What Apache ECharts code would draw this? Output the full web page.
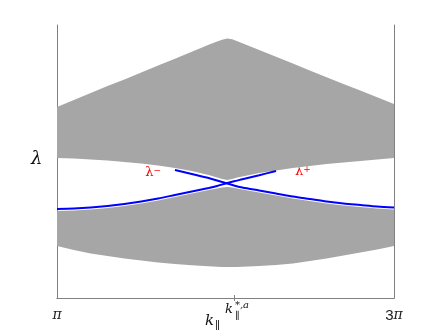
<!DOCTYPE html>
<html>
<head>
<meta charset="utf-8">
<script src="https://cdn.jsdelivr.net/npm/echarts@6/dist/echarts.min.js"></script>
<style>
  html, body { margin: 0; padding: 0; background: #fff; }
  #chart { width: 436px; height: 336px; }
</style>
</head>
<body>
<div id="chart"></div>
<script>
// k in units of pi
var kValues   = [1.0, 1.1, 1.2, 1.3, 1.4, 1.5, 1.6, 1.7, 1.8, 1.9, 1.95, 1.98, 2.01, 2.04, 2.07, 2.1, 2.2, 2.3, 2.4, 2.5, 2.6, 2.7, 2.8, 2.9, 3.0];
// edges of the grey bands (lambda, arbitrary units)
var upperTop  = [1.91, 1.98, 2.05, 2.12, 2.185, 2.255, 2.325, 2.393, 2.463, 2.533, 2.565, 2.583, 2.595, 2.588, 2.568, 2.548, 2.48, 2.412, 2.344, 2.276, 2.208, 2.14, 2.076, 2.008, 1.94];
var upperBot  = [1.40, 1.395, 1.385, 1.375, 1.36, 1.345, 1.325, 1.30, 1.27, 1.23, 1.205, 1.19, 1.18, 1.19, 1.205, 1.215, 1.25, 1.275, 1.30, 1.32, 1.34, 1.355, 1.37, 1.385, 1.40];
var lowerTop  = [0.87, 0.875, 0.885, 0.90, 0.92, 0.945, 0.975, 1.01, 1.045, 1.08, 1.095, 1.104, 1.11, 1.104, 1.094, 1.085, 1.055, 1.025, 0.995, 0.97, 0.945, 0.925, 0.91, 0.895, 0.885];
var lowerBot  = [0.52, 0.48, 0.445, 0.42, 0.395, 0.375, 0.355, 0.34, 0.327, 0.317, 0.313, 0.311, 0.31, 0.31, 0.311, 0.313, 0.32, 0.33, 0.345, 0.37, 0.395, 0.425, 0.455, 0.485, 0.52];
// blue branches
var kPlus     = [1.0, 1.1, 1.2, 1.3, 1.4, 1.5, 1.6, 1.7, 1.8, 1.9, 1.95, 2.0, 2.05, 2.1, 2.2, 2.3];
var lamPlus   = [0.89, 0.895, 0.905, 0.92, 0.94, 0.965, 0.995, 1.03, 1.065, 1.10, 1.12, 1.145, 1.167, 1.187, 1.228, 1.27];
var kMinus    = [1.7, 1.8, 1.9, 1.95, 2.0, 2.05, 2.1, 2.2, 2.3, 2.4, 2.5, 2.6, 2.7, 2.8, 2.9, 3.0];
var lamMinus  = [1.28, 1.24, 1.20, 1.175, 1.15, 1.125, 1.105, 1.075, 1.045, 1.015, 0.99, 0.965, 0.945, 0.93, 0.915, 0.905];
var kStar     = 2.05;

var bands = [[upperTop, upperBot], [lowerTop, lowerBot]];

function pairs(xs, ys) {
    return xs.map(function (x, i) { return [x, ys[i]]; });
}

var chart = echarts.init(document.getElementById('chart'));
var axisGrey = '#808080';

var option = {
    animation: false,
    grid: { left: 57, right: 42, top: 25, bottom: 38 },
    xAxis: [
        {
            type: 'value', min: 1, max: 3, position: 'bottom',
            axisLine: { lineStyle: { color: axisGrey, width: 1 } },
            axisTick: { show: true, inside: true, length: 3, customValues: [kStar], lineStyle: { color: axisGrey } },
            axisLabel: {
                customValues: [1, 3], margin: 10,
                formatter: function (v) { return v === 1 ? '{p|π}' : '{n|3}{p|π}'; },
                rich: {
                    p: { fontFamily: 'DejaVu Serif', fontStyle: 'italic', fontSize: 14, color: '#222' },
                    n: { fontFamily: 'Liberation Sans', fontSize: 15, color: '#222' }
                }
            },
            splitLine: { show: false }
        },
        {
            type: 'value', min: 1, max: 3, position: 'top',
            axisLine: { lineStyle: { color: axisGrey, width: 1 } },
            axisTick: { show: true, inside: true, length: 3, customValues: [kStar], lineStyle: { color: axisGrey } },
            axisLabel: { show: false },
            splitLine: { show: false }
        }
    ],
    yAxis: [
        {
            type: 'value', min: 0, max: 2.73, position: 'left',
            axisLine: { show: true, lineStyle: { color: axisGrey, width: 1 } },
            axisTick: { show: false }, axisLabel: { show: false }, splitLine: { show: false }
        },
        {
            type: 'value', min: 0, max: 2.73, position: 'right',
            axisLine: { show: true, lineStyle: { color: axisGrey, width: 1 } },
            axisTick: { show: false }, axisLabel: { show: false }, splitLine: { show: false }
        }
    ],
    series: [
        {
            // grey continuum bands
            type: 'custom',
            data: [[kValues[0], upperTop[0]], [kValues[0], lowerTop[0]]],
            renderItem: function (params, api) {
                var b = bands[params.dataIndex];
                var pts = [];
                for (var i = 0; i < kValues.length; i++) pts.push(api.coord([kValues[i], b[0][i]]));
                for (var j = kValues.length - 1; j >= 0; j--) pts.push(api.coord([kValues[j], b[1][j]]));
                return {
                    type: 'polygon',
                    shape: { points: pts, smooth: 0 },
                    style: { fill: '#a6a6a6', stroke: 'none' }
                };
            },
            z: 1
        },
        {
            type: 'line', name: 'lambda+', data: pairs(kPlus, lamPlus),
            showSymbol: false, smooth: 0.3,
            lineStyle: { color: '#0000ff', width: 2 }, z: 3
        },
        {
            type: 'line', name: 'lambda-', data: pairs(kMinus, lamMinus),
            showSymbol: false, smooth: 0.3,
            lineStyle: { color: '#0000ff', width: 2 }, z: 3
        }
    ]
};
chart.setOption(option);

// texts placed through the axes' own scales
var tickPx = chart.convertToPixel({ xAxisIndex: 0 }, kStar);
var labMinus = chart.convertToPixel({ xAxisIndex: 0, yAxisIndex: 0 }, [1.57, 1.25]);
var labPlus = chart.convertToPixel({ xAxisIndex: 0, yAxisIndex: 0 }, [2.46, 1.26]);
var serif = 'DejaVu Serif';
var redRich = {
    l: { fontFamily: serif, fontSize: 13, fill: '#ff0000' },
    s: { fontFamily: serif, fontSize: 9, fill: '#ff0000', verticalAlign: 'top' }
};

chart.setOption({
    graphic: [
        { type: 'text', x: 31, y: 150, style: { text: 'λ', font: 'italic 18px ' + serif, fill: '#111' } },
        { type: 'text', x: tickPx - 9, y: 303, style: { text: 'k', font: 'italic 13px ' + serif, fill: '#111' } },
        { type: 'text', x: tickPx + 1, y: 300, style: { text: '*,a', font: 'italic 10px ' + serif, fill: '#111' } },
        { type: 'text', x: tickPx + 1, y: 311, style: { text: '∥', font: '10px ' + serif, fill: '#111' } },
        { type: 'text', x: 205, y: 314, style: { text: 'k', font: 'italic 15px ' + serif, fill: '#111' } },
        { type: 'text', x: 215, y: 321, style: { text: '∥', font: '11px ' + serif, fill: '#111' } },
        {
            type: 'text', x: labMinus[0], y: labMinus[1],
            style: { text: '{l|λ}{s|−}', rich: redRich, verticalAlign: 'middle', align: 'center' }
        },
        {
            type: 'text', x: labPlus[0], y: labPlus[1],
            style: { text: '{l|λ}{s|+}', rich: redRich, verticalAlign: 'middle', align: 'center' }
        }
    ]
});
</script>
</body>
</html>
